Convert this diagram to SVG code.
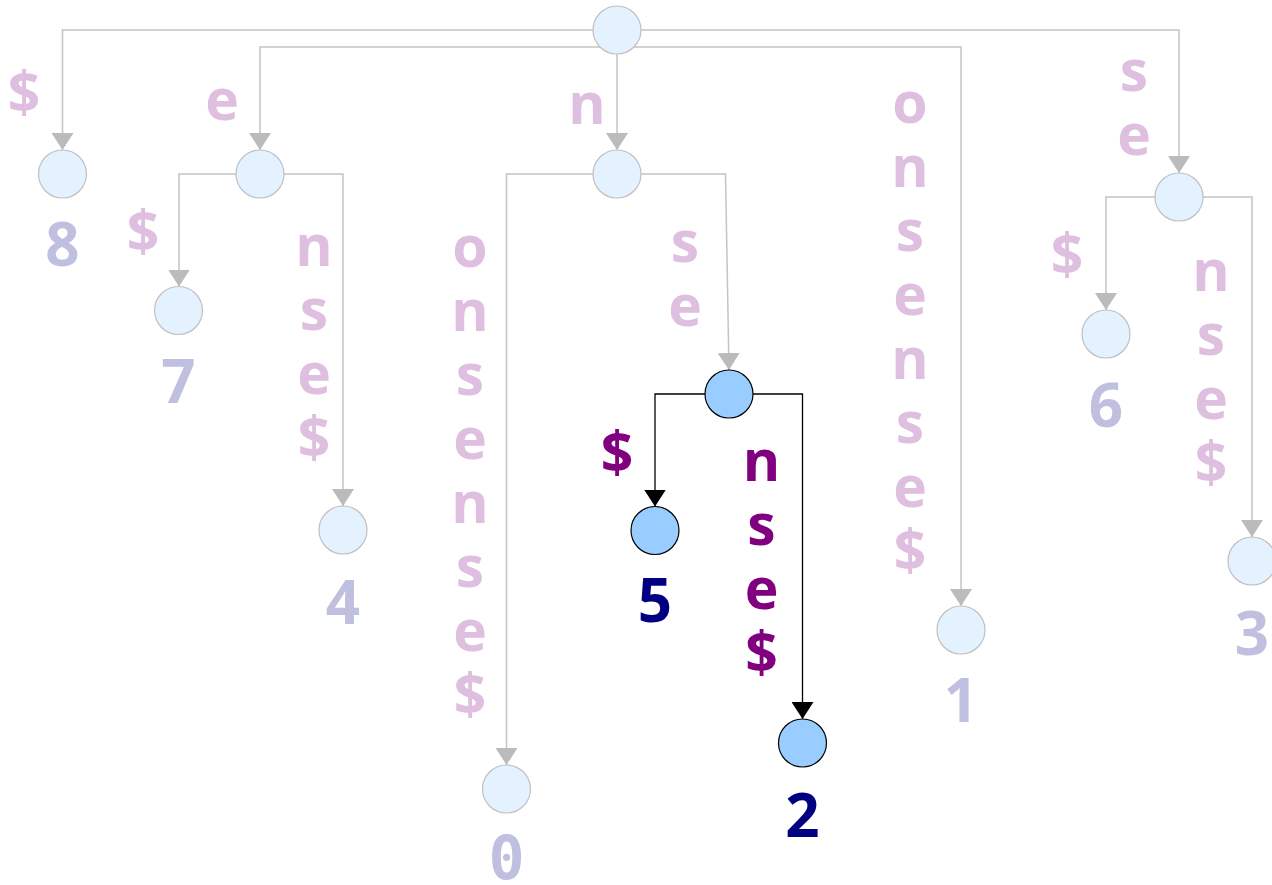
<svg xmlns="http://www.w3.org/2000/svg" width="1272" height="885" viewBox="0 0 1272 885">
<style>
.e{fill:none;stroke:#c4c4c4;stroke-width:1.5}
.eh{fill:none;stroke:#000;stroke-width:1.3}
.c{fill:#e4f1fe;stroke:#c0c0c0;stroke-width:1.2}
.ch{fill:#99ccff;stroke:#000;stroke-width:1.2}
.l{font-family:"Open Sans","DejaVu Sans",sans-serif;font-weight:bold;font-size:57px;fill:#dfbfdf;text-anchor:middle}
.lh{fill:#800080}
.d{font-family:"Open Sans","DejaVu Sans",sans-serif;font-weight:bold;font-size:60px;fill:#bfbfdf;text-anchor:middle}
.z{font-family:"DejaVu Sans Mono",monospace}
.dh{fill:#000080}
</style>
<defs>
<marker id="a" viewBox="0 0 17 22" refX="17" refY="11" markerWidth="17" markerHeight="22" markerUnits="userSpaceOnUse" orient="auto"><path d="M0,0 L17,11 L0,22 Z" fill="#bbbbbb"/></marker>
<marker id="ah" viewBox="0 0 17 22" refX="17" refY="11" markerWidth="17" markerHeight="22" markerUnits="userSpaceOnUse" orient="auto"><path d="M0,0 L17,11 L0,22 Z" fill="#000"/></marker>
</defs>
<g id="connectors">
<path class="e" marker-end="url(#a)" d="M617,30 H62.5 V150"/>
<path class="e" marker-end="url(#a)" d="M617,47 H260 V150"/>
<path class="e" marker-end="url(#a)" d="M617,54 V150"/>
<path class="e" marker-end="url(#a)" d="M617,47 H961 V606"/>
<path class="e" marker-end="url(#a)" d="M617,30 H1179 V173"/>
<path class="e" marker-end="url(#a)" d="M260,174 H179 V286.5"/>
<path class="e" marker-end="url(#a)" d="M260,174 H343 V506"/>
<path class="e" marker-end="url(#a)" d="M617,174 H506.5 V765"/>
<path class="e" marker-end="url(#a)" d="M617,174 H725.5 L729,370"/>
<path class="e" marker-end="url(#a)" d="M1179,197 H1106 V310"/>
<path class="e" marker-end="url(#a)" d="M1179,197 H1252 V537"/>
<path class="eh" marker-end="url(#ah)" d="M729,394 H655 V506.5"/>
<path class="eh" marker-end="url(#ah)" d="M729,394 H802.5 V719"/>
</g>
<g id="edge-labels">
<text class="l" x="24" y="113">$</text>
<text class="l" x="222" y="120">e</text>
<text class="l" x="587" y="124">n</text>
<text class="l"><tspan x="910" y="123">o</tspan><tspan x="910" dy="64">n</tspan><tspan x="910" dy="64">s</tspan><tspan x="910" dy="64">e</tspan><tspan x="910" dy="64">n</tspan><tspan x="910" dy="64">s</tspan><tspan x="910" dy="64">e</tspan><tspan x="910" dy="64">$</tspan></text>
<text class="l"><tspan x="1134" y="91">s</tspan><tspan x="1134" dy="64">e</tspan></text>
<text class="l" x="143" y="252">$</text>
<text class="l"><tspan x="314" y="266">n</tspan><tspan x="314" dy="64">s</tspan><tspan x="314" dy="64">e</tspan><tspan x="314" dy="64">$</tspan></text>
<text class="l"><tspan x="470" y="267">o</tspan><tspan x="470" dy="64">n</tspan><tspan x="470" dy="64">s</tspan><tspan x="470" dy="64">e</tspan><tspan x="470" dy="64">n</tspan><tspan x="470" dy="64">s</tspan><tspan x="470" dy="64">e</tspan><tspan x="470" dy="64">$</tspan></text>
<text class="l"><tspan x="685" y="262">s</tspan><tspan x="685" dy="64">e</tspan></text>
<text class="l lh" x="617" y="473">$</text>
<text class="l lh"><tspan x="761.5" y="481">n</tspan><tspan x="761.5" dy="64">s</tspan><tspan x="761.5" dy="64">e</tspan><tspan x="761.5" dy="64">$</tspan></text>
<text class="l" x="1067" y="275">$</text>
<text class="l"><tspan x="1211" y="291">n</tspan><tspan x="1211" dy="64">s</tspan><tspan x="1211" dy="64">e</tspan><tspan x="1211" dy="64">$</tspan></text>
</g>
<g id="root"><circle class="c" cx="617" cy="30" r="24"/></g>
<g id="node-e"><circle class="c" cx="260" cy="174" r="24"/></g>
<g id="node-n"><circle class="c" cx="617" cy="174" r="24"/></g>
<g id="node-nse"><circle class="ch" cx="729" cy="394" r="24"/></g>
<g id="node-se"><circle class="c" cx="1179" cy="197" r="24"/></g>
<g id="leaf-8"><circle class="c" cx="62.5" cy="174" r="24"/><text class="d" x="62.5" y="266">8</text></g>
<g id="leaf-7"><circle class="c" cx="178.5" cy="310.5" r="24"/><text class="d" x="178.5" y="403">7</text></g>
<g id="leaf-4"><circle class="c" cx="343" cy="530" r="24"/><text class="d" x="343" y="624">4</text></g>
<g id="leaf-0"><circle class="c" cx="506.5" cy="789" r="24"/><text class="d z" x="506.5" y="879">0</text></g>
<g id="leaf-5"><circle class="ch" cx="655" cy="530.5" r="24"/><text class="d dh" x="655" y="622">5</text></g>
<g id="leaf-2"><circle class="ch" cx="802.5" cy="743" r="24"/><text class="d dh" x="802.5" y="837">2</text></g>
<g id="leaf-1"><circle class="c" cx="961" cy="630" r="24"/><text class="d" x="961" y="722">1</text></g>
<g id="leaf-6"><circle class="c" cx="1106" cy="334" r="24"/><text class="d" x="1106" y="427">6</text></g>
<g id="leaf-3"><circle class="c" cx="1252" cy="561" r="24"/><text class="d" x="1252" y="655">3</text></g>
</svg>
